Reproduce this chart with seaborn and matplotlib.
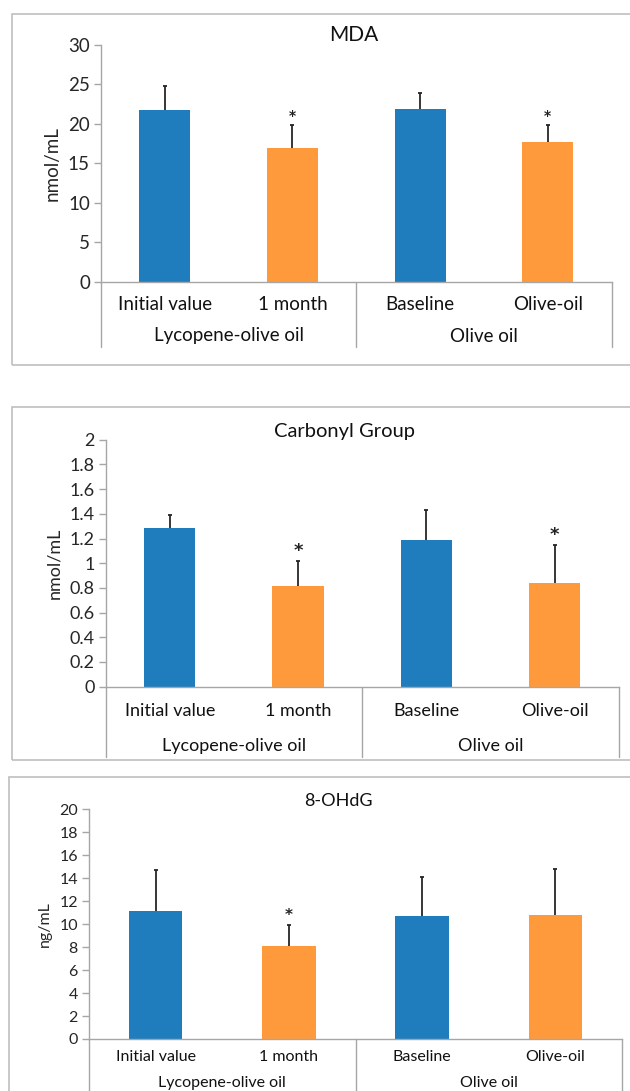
import matplotlib
matplotlib.use("Agg")
import matplotlib.pyplot as plt
import matplotlib.transforms as mtransforms
from matplotlib.patches import Rectangle
import seaborn as sns

sns.set_style("white")
plt.rcParams["font.family"] = ["Lato", "DejaVu Sans"]

# data
categories = ["Initial value", "1 month", "Baseline", "Olive-oil"]
groups = ["Lycopene-olive oil", "Olive oil"]
colors = ["#1F7DBE", "#FF9A3C", "#1F7DBE", "#FF9A3C"]

mda = [21.8, 16.95, 21.9, 17.75]
mda_err = [3.0, 2.9, 2.05, 2.15]
mda_star = [False, True, False, True]

carbonyl = [1.285, 0.816, 1.184, 0.840]
carbonyl_err = [0.104, 0.202, 0.246, 0.311]
carbonyl_star = [False, True, False, True]

ohdg = [11.15, 8.12, 10.75, 10.8]
ohdg_err = [3.55, 1.82, 3.34, 4.03]
ohdg_star = [False, True, False, False]

W, H = 630, 1091
fig = plt.figure(figsize=(W / 100, H / 100), dpi=100)


def px_axes(left, top, right, bottom):
    return fig.add_axes([left / W, 1 - bottom / H, (right - left) / W, (bottom - top) / H])


def frame(left, top, right, bottom):
    fig.patches.append(Rectangle((left / W, 1 - bottom / H), (right - left) / W, (bottom - top) / H,
                                 transform=fig.transFigure, fill=False, edgecolor="#BFBFBF", lw=1.2))


def panel(ax, vals, errs, stars, title, ylabel, ymax, ystep, fs, tfs, sep_drop, cat_off, grp_off, star_fs, star_gap):
    sns.barplot(x=categories, y=vals, hue=categories, palette=colors, legend=False,
                errorbar=None, width=0.4, ax=ax, saturation=1, edgecolor="none")
    ax.errorbar(range(4), vals, yerr=[[0] * 4, errs], fmt="none", ecolor="#262626",
                elinewidth=1.3, capsize=0)
    tops = [v + e for v, e in zip(vals, errs)]
    ax.scatter(range(4), tops, marker="_", s=12, color="#262626", linewidths=1.3, zorder=3)
    for i, s in enumerate(stars):
        if s:
            ax.text(i, tops[i] + star_gap, "*", ha="center", va="bottom",
                    fontsize=star_fs, color="#222222", fontweight="bold",
                    family="DejaVu Sans")
    ax.set_xlim(-0.5, 3.5)
    ax.set_ylim(0, ymax)
    ticks = [round(k * ystep, 2) for k in range(int(round(ymax / ystep)) + 1)]
    ax.set_yticks(ticks)
    ax.set_yticklabels([("%g" % t) for t in ticks], fontsize=fs)
    ax.set_xticks(range(4))
    ax.set_xticklabels([])
    ax.tick_params(axis="y", length=5, color="#A6A6A6", width=1, pad=3, left=True)
    ax.tick_params(axis="x", length=0)
    for side in ["top", "right"]:
        ax.spines[side].set_visible(False)
    for side in ["left", "bottom"]:
        ax.spines[side].set_color("#A6A6A6")
        ax.spines[side].set_linewidth(1)
    ax.set_title(title, fontsize=tfs, pad=-2, color="#111111")
    ax.set_ylabel(ylabel, fontsize=fs, labelpad=5)

    h_ax = ax.get_position().height * H
    trans = mtransforms.blended_transform_factory(ax.transData, ax.transAxes)
    for xs in [-0.5, 1.5, 3.5]:
        ax.plot([xs, xs], [0, -sep_drop / h_ax], transform=trans, color="#A6A6A6",
                lw=1, clip_on=False)
    for i, c in enumerate(categories):
        ax.text(i, -cat_off / h_ax, c, transform=trans, ha="center", va="center",
                fontsize=fs, color="#111111")
    for j, g in enumerate(groups):
        ax.text(0.5 + 2 * j, -grp_off / h_ax, g, transform=trans, ha="center", va="center",
                fontsize=fs, color="#111111")


# panel borders
frame(12, 14, 640, 365)
frame(12, 407, 640, 760)
frame(9, 777, 640, 1100)

ax1 = px_axes(101, 44.8, 611.5, 282)
panel(ax1, mda, mda_err, mda_star, "MDA", "nmol/mL", 30, 5, 13.5, 15, 65, 22, 54, 10, 0.25)
ax1.title.set_position((0.495, 0.985))

ax2 = px_axes(105.7, 439.8, 618.7, 686.6)
panel(ax2, carbonyl, carbonyl_err, carbonyl_star, "Carbonyl Group", "nmol/mL", 2, 0.2, 13, 14.5, 70, 24, 59, 13, 0.005)
ax2.title.set_position((0.465, 1.0))

ax3 = px_axes(89, 809.3, 622, 1039)
panel(ax3, ohdg, ohdg_err, ohdg_star, "8-OHdG", "ng/mL", 20, 2, 11.5, 13, 60, 18, 44, 11, 0.15)
ax3.title.set_position((0.467, 0.96))

fig.savefig("out.png", dpi=100)
